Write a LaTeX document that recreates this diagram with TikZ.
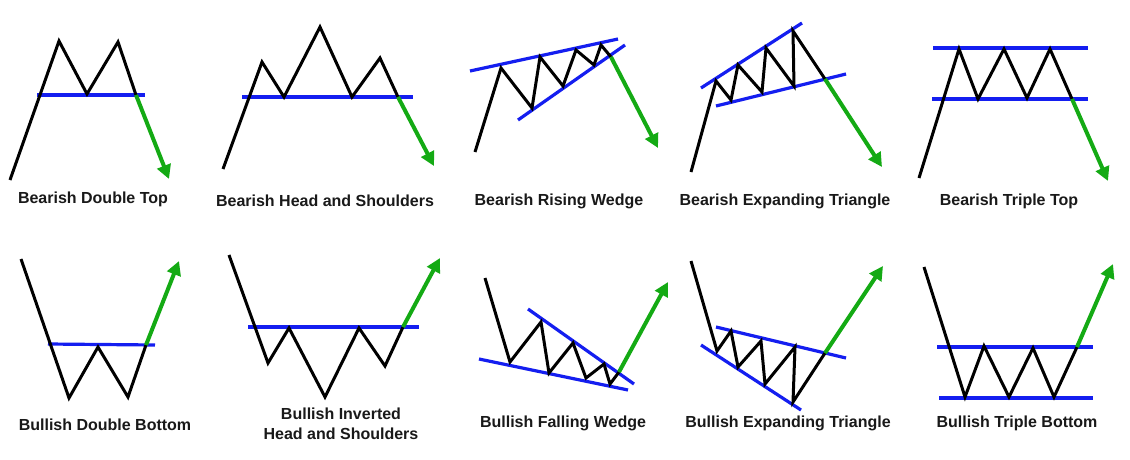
\documentclass[tikz,border=0pt]{standalone}
\usepackage{fontspec}
\setmainfont{Liberation Sans}
\usetikzlibrary{arrows.meta}
\definecolor{trendblue}{RGB}{20,30,240}
\definecolor{breakgreen}{RGB}{20,170,20}
\definecolor{labelgray}{RGB}{25,25,25}
\tikzset{
  price/.style={draw=black, line width=3pt, line join=miter, miter limit=10},
  level/.style={draw=trendblue, line width=3.2pt},
  breakout/.style={draw=breakgreen, line width=4pt, -{Triangle[length=14pt,width=14pt]}},
  caption/.style={text=labelgray, font=\fontsize{16}{19.5}\selectfont\bfseries, align=center, inner sep=0pt}
}
\begin{document}
\begin{tikzpicture}[x=1pt,y=-1pt]
\useasboundingbox (0,0) rectangle (1130,459);
\fill[white] (0,0) rectangle (1130,459);

% 1 Bearish Double Top
\draw[level] (37,95) -- (145,95);
\draw[price] (10,180) -- (59,41) -- (87,94) -- (118,42) -- (136,95);
\coordinate (b1) at (136,95); \coordinate (e1) at (169,179);
\draw[breakout] (b1) -- (e1);
\node[caption] (t1) at (93,199) {Bearish Double Top};

% 2 Bearish Head and Shoulders
\draw[level] (242,97) -- (413,97);
\draw[price] (223,169) -- (262,62) -- (284,97) -- (320,27) -- (352,97) -- (380,58) -- (398,97);
\coordinate (b2) at (398,97); \coordinate (e2) at (434,166);
\draw[breakout] (b2) -- (e2);
\node[caption] (t2) at (325,201) {Bearish Head and Shoulders};

% 3 Bearish Rising Wedge
\draw[level] (470,71) -- (618,39);
\draw[level] (518,120) -- (625,45);
\draw[price] (475,152) -- (501,68) -- (532,108) -- (540,57) -- (563,86) -- (576,50) -- (594,65) -- (601,45) -- (611,57);
\coordinate (b3) at (611,57); \coordinate (e3) at (658,148);
\draw[breakout] (b3) -- (e3);
\node[caption] (t3) at (559,201) {Bearish Rising Wedge};

% 4 Bearish Expanding Triangle
\draw[level] (701,88) -- (802,23);
\draw[level] (716,106) -- (846,74);
\draw[price] (691,172) -- (716,81) -- (731,100) -- (738,65) -- (762,92) -- (766,48) -- (794,86) -- (793,31) -- (825,79);
\coordinate (b4) at (825,79); \coordinate (e4) at (882,167);
\draw[breakout] (b4) -- (e4);
\node[caption] (t4) at (785,201) {Bearish Expanding Triangle};

% 5 Bearish Triple Top
\draw[level] (933,48) -- (1088,48);
\draw[level] (932,99) -- (1088,99);
\draw[price] (919,178) -- (959,49) -- (978,99) -- (1004,49) -- (1027,98) -- (1050,49) -- (1072,99);
\coordinate (b5) at (1072,99); \coordinate (e5) at (1108,181);
\draw[breakout] (b5) -- (e5);
\node[caption] (t5) at (1009,201) {Bearish Triple Top};

% 6 Bullish Double Bottom
\draw[level] (48,344) -- (155,345);
\draw[price] (21,259) -- (69,398) -- (98,347) -- (128,397) -- (146,345);
\coordinate (b6) at (146,345); \coordinate (e6) at (179,261);
\draw[breakout] (b6) -- (e6);
\node[caption] (t6) at (105,425) {Bullish Double Bottom};

% 7 Bullish Inverted Head and Shoulders
\draw[level] (248,327) -- (419,327);
\draw[price] (229,255) -- (268,363) -- (289,328) -- (325,397) -- (359,328) -- (385,366) -- (403,327);
\coordinate (b7) at (403,327); \coordinate (e7) at (440,258);
\draw[breakout] (b7) -- (e7);
\node[caption] (t7) at (341,424) {Bullish Inverted\\Head and Shoulders};

% 8 Bullish Falling Wedge
\draw[level] (528,309) -- (634,384);
\draw[level] (479,359) -- (628,390);
\draw[price] (485,278) -- (510,362) -- (541,322) -- (549,373) -- (573,343) -- (586,378) -- (604,364) -- (610,384) -- (619,372);
\coordinate (b8) at (619,372); \coordinate (e8) at (668,282);
\draw[breakout] (b8) -- (e8);
\node[caption] (t8) at (563,423) {Bullish Falling Wedge};

% 9 Bullish Expanding Triangle
\draw[level] (716,327) -- (846,358);
\draw[level] (701,345) -- (801,410);
\draw[price] (691,261) -- (717,351) -- (731,331) -- (738,367) -- (761,341) -- (765,384) -- (795,347) -- (793,402) -- (825,353);
\coordinate (b9) at (825,353); \coordinate (e9) at (883,266);
\draw[breakout] (b9) -- (e9);
\node[caption] (t9) at (788,423) {Bullish Expanding Triangle};

% 10 Bullish Triple Bottom
\draw[level] (937,347) -- (1093,347);
\draw[level] (939,398) -- (1093,398);
\draw[price] (924,267) -- (965,397) -- (984,346) -- (1009,397) -- (1033,348) -- (1054,397) -- (1077,347);
\coordinate (b10) at (1077,347); \coordinate (e10) at (1113,264);
\draw[breakout] (b10) -- (e10);
\node[caption] (t10) at (1017,423) {Bullish Triple Bottom};
\end{tikzpicture}
\end{document}
